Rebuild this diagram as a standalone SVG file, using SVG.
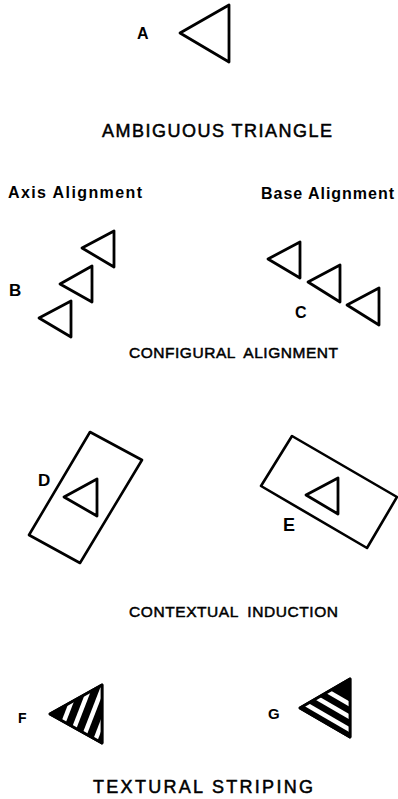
<svg xmlns="http://www.w3.org/2000/svg" width="398" height="799" viewBox="0 0 398 799">
<style>
.tri{fill:none;stroke:#000;stroke-width:2.8;stroke-linejoin:round}
.rect{fill:none;stroke:#000;stroke-width:2.6;stroke-linejoin:round}
.solid{fill:#000;stroke:#000;stroke-width:2.8;stroke-linejoin:round}
.stripe{stroke:#fff;stroke-width:4.5;fill:none}
.title{font-family:"Liberation Sans",Arial,sans-serif;font-size:18px;fill:#000;stroke:#000;stroke-width:0.5}
.sub{font-size:15.5px;word-spacing:4px}
.head{font-family:"Liberation Sans",Arial,sans-serif;font-size:16px;font-weight:bold;fill:#000}
.lbl{font-family:"Liberation Sans",Arial,sans-serif;font-weight:bold;fill:#000}
</style>
<defs>
<clipPath id="clipF"><polygon points="50,714 102,685 102,743"/></clipPath>
<clipPath id="clipG"><polygon points="300,708 350,679 350,737"/></clipPath>
</defs>
<rect width="398" height="799" fill="#fff"/>

<g id="A">
<polygon class="tri" points="180,33 229,5 229,62"/>
<text class="lbl" x="137" y="39" font-size="16">A</text>
</g>
<text class="title" x="102" y="137" textLength="230" lengthAdjust="spacing">AMBIGUOUS TRIANGLE</text>

<g id="B">
<text class="head" x="8" y="198" textLength="134" lengthAdjust="spacing">Axis Alignment</text>
<polygon class="tri" points="82,248 114,231 114,267"/>
<polygon class="tri" points="60,284 92,266 92,302"/>
<polygon class="tri" points="39,318 71,301 71,337"/>
<text class="lbl" x="9" y="296" font-size="17">B</text>
</g>

<g id="C">
<text class="head" x="261" y="199" textLength="133" lengthAdjust="spacing">Base Alignment</text>
<polygon class="tri" points="268,259 300,242 300,278"/>
<polygon class="tri" points="308,282 340,265 340,302"/>
<polygon class="tri" points="347,305 379,288 379,325"/>
<text class="lbl" x="295" y="318" font-size="16">C</text>
</g>
<text class="title sub" x="129" y="358" textLength="209" lengthAdjust="spacing">CONFIGURAL ALIGNMENT</text>

<g id="D">
<polygon class="rect" points="90,432 142,460 80,563 29,535"/>
<polygon class="tri" points="64,497 97,479 97,516"/>
<text class="lbl" x="38" y="486" font-size="17">D</text>
</g>

<g id="E">
<polygon class="rect" points="292,436 397,497 367,548 261,486"/>
<polygon class="tri" points="306,495 338,478 338,514"/>
<text class="lbl" x="283" y="531" font-size="18">E</text>
</g>
<text class="title sub" x="129" y="617" textLength="209" lengthAdjust="spacing">CONTEXTUAL INDUCTION</text>

<g id="F">
<polygon class="solid" points="50,714 102,685 102,743"/>
<g clip-path="url(#clipF)">
<line class="stripe" x1="81.1" y1="676.8" x2="52.3" y2="751.2"/>
<line class="stripe" x1="94" y1="676.8" x2="65.2" y2="751.2"/>
<line class="stripe" x1="106.9" y1="676.8" x2="78.1" y2="751.2"/>
<line class="stripe" x1="119.8" y1="676.8" x2="91" y2="751.2"/>
</g>
<polygon class="tri" points="50,714 102,685 102,743"/>
<text class="lbl" x="18" y="723" font-size="14">F</text>
</g>

<g id="G">
<polygon class="solid" points="300,708 350,679 350,737"/>
<g clip-path="url(#clipG)">
<line class="stripe" x1="251.2" y1="672.5" x2="355" y2="732.7"/>
<line class="stripe" x1="256.8" y1="663" x2="360.6" y2="723.2"/>
<line class="stripe" x1="262.3" y1="653.5" x2="366.1" y2="713.7"/>
</g>
<polygon class="tri" points="300,708 350,679 350,737"/>
<text class="lbl" x="268" y="719" font-size="15">G</text>
</g>
<text class="title" x="93" y="793" textLength="220" lengthAdjust="spacing">TEXTURAL STRIPING</text>
</svg>
